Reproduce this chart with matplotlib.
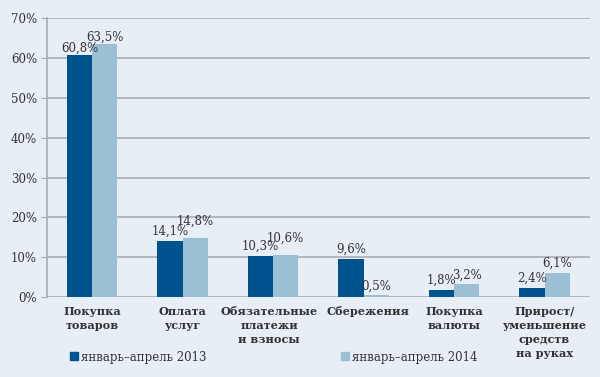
import numpy as np
import matplotlib.pyplot as plt
import matplotlib.transforms as mtransforms

categories = ["Покупка\nтоваров", "Оплата\nуслуг", "Обязательные\nплатежи\nи взносы",
              "Сбережения", "Покупка\nвалюты", "Прирост/\nуменьшение\nсредств\nна руках"]
values_2013 = [60.8, 14.1, 10.3, 9.6, 1.8, 2.4]
values_2014 = [63.5, 14.8, 10.6, 0.5, 3.2, 6.1]
series_names = ["январь–апрель 2013", "январь–апрель 2014"]

bg = "#e7eef6"
dark = "#00538f"
light = "#9bc0d4"
grid_c = "#a9aeb4"
txt = "#333333"

plt.rcParams['font.family'] = ['DejaVu Serif']

fig = plt.figure(figsize=(6, 3.77), dpi=100, facecolor=bg)
ax = fig.add_axes([0.078, 0.212, 0.905, 0.740])
ax.set_facecolor(bg)

x = np.arange(len(categories))
w = 0.28
b1 = ax.bar(x - w/2, values_2013, w, color=dark, label=series_names[0], zorder=3)
b2 = ax.bar(x + w/2, values_2014, w, color=light, label=series_names[1], zorder=3)

def fmt(v):
    return f"{v:.1f}%".replace(".", ",")

# label offsets in points (the tall pair sits almost on the bar, two are lifted)
for s, (bars, vals) in enumerate(((b1, values_2013), (b2, values_2014))):
    for i, (r, v) in enumerate(zip(bars, vals)):
        off = 2
        if i == 0:
            off = 0
        elif s == 1 and i in (1, 2):
            off = 7.5
        ax.annotate(fmt(v), (r.get_x() + r.get_width()/2, v), xytext=(0, off),
                    textcoords='offset points', ha='center', va='bottom',
                    fontsize=8.5, color=txt, zorder=4)

ax.set_xlim(-0.5, len(categories) - 0.5)
ax.set_ylim(0, 70)
ax.set_yticks(range(0, 71, 10))
ax.set_yticklabels([f"{t}%" for t in range(0, 71, 10)], fontsize=8.5, color=txt)
ax.yaxis.grid(True, color=grid_c, linewidth=1.2, zorder=0)
ax.tick_params(axis='y', length=4, color=grid_c, pad=3)
ax.tick_params(axis='x', length=0)
ax.set_xticks(x)
ax.set_xticklabels(categories, fontsize=8.1, fontweight='bold', color=txt,
                   linespacing=1.32, va='top')
ax.tick_params(axis='x', pad=6.5)
# push the two long neighbouring labels apart a little
for lab, dx in zip(ax.get_xticklabels(), [0, 0, -4, 4, 0, 0]):
    if dx:
        lab.set_transform(lab.get_transform() +
                          mtransforms.ScaledTranslation(dx / 100, 0, fig.dpi_scale_trans))
for s in ('top', 'right', 'bottom'):
    ax.spines[s].set_visible(False)
ax.spines['left'].set_color(grid_c)
ax.spines['left'].set_linewidth(1.2)

h1 = plt.Line2D([], [], marker='s', linestyle='', color=dark, markersize=5.5)
h2 = plt.Line2D([], [], marker='s', linestyle='', color=light, markersize=5.5)
fig.legend([h1], [series_names[0]], loc='center left', bbox_to_anchor=(0.103, 0.053),
           frameon=False, fontsize=8.5, handletextpad=0.1, handlelength=1.0,
           borderpad=0, labelcolor=txt)
fig.legend([h2], [series_names[1]], loc='center left', bbox_to_anchor=(0.555, 0.053),
           frameon=False, fontsize=8.5, handletextpad=0.1, handlelength=1.0,
           borderpad=0, labelcolor=txt)

fig.savefig("out.png", dpi=100, facecolor=bg)
